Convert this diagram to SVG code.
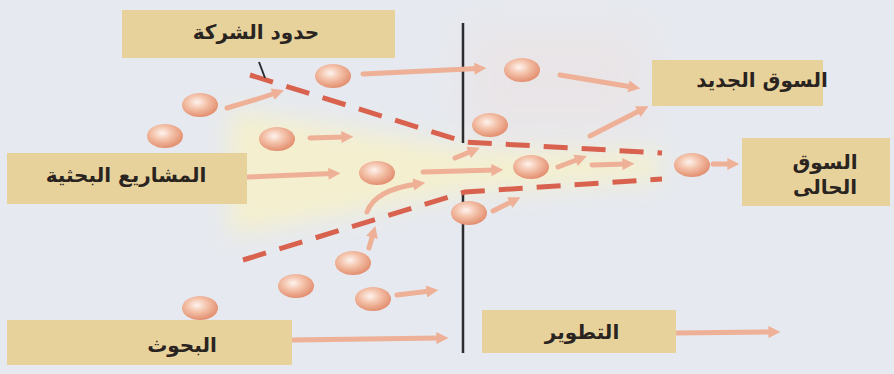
<svg xmlns="http://www.w3.org/2000/svg" width="894" height="374" viewBox="0 0 894 374">
<style>
.box{fill:#e8d29c;}
.lbl{font-family:"DejaVu Sans",sans-serif;font-weight:bold;font-size:20px;fill:#2a2420;text-anchor:middle;}
.arr{stroke:#eeb096;stroke-width:5;fill:none;stroke-linecap:round;marker-end:url(#ah);}
.dash{stroke:#d9624f;stroke-width:5;fill:none;stroke-dasharray:24 14;}
.ball{fill:url(#bg);}
</style>
<defs>
<radialGradient id="bg" cx="0.42" cy="0.38" r="0.62">
<stop offset="0" stop-color="#fdf3ee"/>
<stop offset="0.45" stop-color="#f4c3ab"/>
<stop offset="1" stop-color="#e38f70"/>
</radialGradient>
<marker id="ah" viewBox="0 0 10 10" refX="3" refY="5" markerWidth="14" markerHeight="12" markerUnits="userSpaceOnUse" orient="auto">
<path d="M0,0 L10,5 L0,10 z" fill="#eeb096"/>
</marker>
<filter id="blur" x="-20%" y="-50%" width="140%" height="200%"><feGaussianBlur stdDeviation="12"/></filter>
<filter id="blur2" x="-30%" y="-30%" width="160%" height="160%"><feGaussianBlur stdDeviation="18"/></filter>
</defs>
<rect width="894" height="374" fill="#e6e9ef"/>
<polygon points="230,110 463,148 660,152 660,180 463,192 230,235" fill="#f7f1c9" opacity="0.85" filter="url(#blur)"/>
<rect x="466" y="28" width="180" height="105" fill="#f2ddd6" opacity="0.3" filter="url(#blur2)"/>

<g id="boundary">
<line x1="463" y1="23" x2="463" y2="143" stroke="#2b2b30" stroke-width="2.5"/>
<line x1="463" y1="192" x2="463" y2="353" stroke="#2b2b30" stroke-width="2.5"/>
<polyline class="dash" points="250,75 465,142 662,153"/>
<polyline class="dash" points="243,260 465,192 662,179"/>
<line x1="259" y1="62" x2="265" y2="78" stroke="#2b2b30" stroke-width="2"/>
</g>

<g id="connectors">
<path class="arr" d="M227,108 Q255,100 276,93"/>
<path class="arr" d="M363,74 L478,68.5"/>
<path class="arr" d="M560,75 L632,87"/>
<path class="arr" d="M590,136 L641,110"/>
<path class="arr" d="M310,138 L345,137"/>
<path class="arr" d="M248,177 L332,173.5"/>
<path class="arr" d="M423,172 L495,170"/>
<path class="arr" d="M367,212 Q375,190 417,184"/>
<path class="arr" d="M369,248 L373,234"/>
<path class="arr" d="M397,295 L430,291"/>
<path class="arr" d="M292,340 L440,338"/>
<path class="arr" d="M677,333 L772,332"/>
<path class="arr" d="M493,211 L513,201"/>
<path class="arr" d="M455,158 L472,151"/>
<path class="arr" d="M558,167 L579,159"/>
<path class="arr" d="M592,165 L626,164"/>
<path class="arr" d="M713,164 L731,164"/>
</g>

<g id="balls">
<ellipse class="ball" cx="333" cy="76" rx="18" ry="12"/>
<ellipse class="ball" cx="200" cy="105" rx="18" ry="12"/>
<ellipse class="ball" cx="165" cy="136" rx="18" ry="12"/>
<ellipse class="ball" cx="277" cy="139" rx="18" ry="12"/>
<ellipse class="ball" cx="377" cy="173" rx="18" ry="12"/>
<ellipse class="ball" cx="522" cy="70" rx="18" ry="12"/>
<ellipse class="ball" cx="490" cy="125" rx="18" ry="12"/>
<ellipse class="ball" cx="531" cy="167" rx="18" ry="12"/>
<ellipse class="ball" cx="692" cy="165" rx="18" ry="12"/>
<ellipse class="ball" cx="469" cy="213" rx="18" ry="12"/>
<ellipse class="ball" cx="353" cy="263" rx="18" ry="12"/>
<ellipse class="ball" cx="296" cy="286" rx="18" ry="12"/>
<ellipse class="ball" cx="373" cy="299" rx="18" ry="12"/>
<ellipse class="ball" cx="200" cy="308" rx="18" ry="12"/>
</g>

<g id="node-company-boundary">
<rect class="box" x="122" y="10" width="273" height="48"/>
<text class="lbl" x="256" y="39">حدود الشركة</text>
</g>
<g id="node-research-projects">
<rect class="box" x="7" y="153" width="240" height="51"/>
<text class="lbl" x="126" y="182">المشاريع البحثية</text>
</g>
<g id="node-research">
<rect class="box" x="7" y="320" width="285" height="45"/>
<text class="lbl" x="182" y="352">البحوث</text>
</g>
<g id="node-new-market">
<rect class="box" x="652" y="60" width="171" height="46"/>
<text class="lbl" x="762" y="87">السوق الجديد</text>
</g>
<g id="node-current-market">
<rect class="box" x="742" y="138" width="148" height="68"/>
<text class="lbl" x="825" y="169">السوق</text>
<text class="lbl" x="825" y="194">الحالى</text>
</g>
<g id="node-development">
<rect class="box" x="482" y="310" width="194" height="43"/>
<text class="lbl" x="582" y="339">التطوير</text>
</g>
</svg>
